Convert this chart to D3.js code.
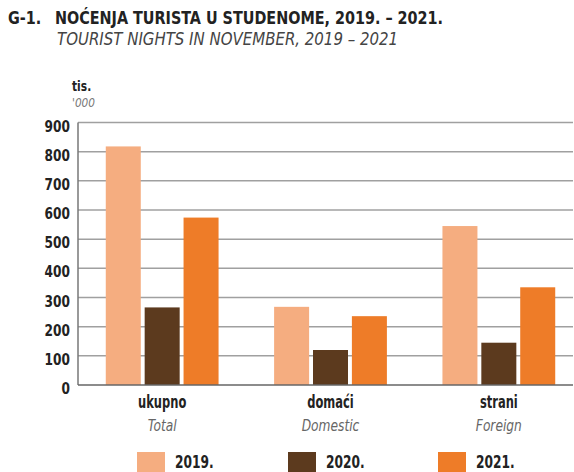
<!DOCTYPE html>
<html>
<head>
<meta charset="utf-8">
<script src="https://cdn.jsdelivr.net/npm/d3@7"></script>
<style>
  body { margin: 0; background: #fff; }
  svg { display: block; font-family: "DejaVu Sans Condensed", "DejaVu Sans", sans-serif; }
</style>
</head>
<body>
<svg id="chart" width="574" height="472"></svg>
<script>
const categories = ["ukupno", "domaći", "strani"];
const categoriesEn = ["Total", "Domestic", "Foreign"];
const years = ["2019.", "2020.", "2021."];
const values2019 = [818, 268, 545];
const values2020 = [266, 120, 145];
const values2021 = [574, 236, 335];
const yTicks = [0, 100, 200, 300, 400, 500, 600, 700, 800, 900];

const series = [values2019, values2020, values2021];
const colors = ["#f5ad80", "#5c3a1e", "#ee7c28"];

const plot = {left: 78, right: 573, top: 122.5, bottom: 385};

const svg = d3.select("#chart");

// text squeezed sideways, to get close to the condensed face of the original
function label(parent, x, y, txt, opts) {
  const g = parent.append("g")
    .attr("transform", `translate(${x},${y}) scale(${opts.sx || 1},1)`);
  return g.append("text")
    .attr("text-anchor", opts.anchor || "start")
    .attr("font-size", opts.size)
    .attr("font-weight", opts.bold ? "bold" : "normal")
    .attr("font-style", opts.italic ? "italic" : "normal")
    .attr("fill", opts.fill || "#222")
    .text(txt);
}

// titles
label(svg, 8, 24, "G-1.", {size: 17, bold: true, sx: 0.94});
label(svg, 55, 24, "NOĆENJA TURISTA U STUDENOME, 2019. – 2021.", {size: 17, bold: true, sx: 0.94});
label(svg, 57, 45, "TOURIST NIGHTS IN NOVEMBER, 2019 – 2021", {size: 17, italic: true, fill: "#444", sx: 0.98});

// unit labels
label(svg, 72, 91, "tis.", {size: 14, bold: true, sx: 0.85});
label(svg, 72, 107, "'000", {size: 13, italic: true, fill: "#777", sx: 0.9});

const y = d3.scaleLinear().domain([0, 900]).range([plot.bottom, plot.top]);

const x0 = d3.scaleBand().domain(categories)
  .range([plot.left, plot.left + 505])
  .paddingInner(0.33).paddingOuter(0.165);
const x1 = d3.scaleBand().domain(years)
  .range([0, x0.bandwidth()]).paddingInner(0.1);

// gridlines
svg.append("g").selectAll("line")
  .data(yTicks.filter(d => d > 0))
  .join("line")
  .attr("x1", plot.left).attr("x2", plot.right)
  .attr("y1", d => y(d)).attr("y2", d => y(d))
  .attr("stroke", "#a0a0a0").attr("stroke-width", 1.5);

// bars
const groups = svg.append("g").selectAll("g")
  .data(categories)
  .join("g")
  .attr("transform", d => `translate(${x0(d)},0)`);

groups.selectAll("rect")
  .data((c, i) => years.map((yr, j) => ({yr, v: series[j][i], j})))
  .join("rect")
  .attr("x", d => x1(d.yr))
  .attr("width", x1.bandwidth())
  .attr("y", d => y(d.v))
  .attr("height", d => y(0) - y(d.v))
  .attr("fill", d => colors[d.j]);

// axis lines
svg.append("line")
  .attr("x1", plot.left).attr("x2", plot.left)
  .attr("y1", y(900)).attr("y2", y(0))
  .attr("stroke", "#777").attr("stroke-width", 1.5);
svg.append("line")
  .attr("x1", plot.left).attr("x2", plot.right)
  .attr("y1", y(0)).attr("y2", y(0))
  .attr("stroke", "#666").attr("stroke-width", 1.5);

// y tick labels
const tickG = svg.append("g");
yTicks.forEach(d => {
  label(tickG, 70, y(d) + 9, d, {size: 16.5, bold: true, anchor: "end", sx: 0.82});
});

// category labels
const catG = svg.append("g");
categories.forEach((c, i) => {
  const cx = x0(c) + x0.bandwidth() / 2;
  label(catG, cx, 408, c, {size: 17, bold: true, anchor: "middle", sx: 0.75});
  label(catG, cx, 431, categoriesEn[i], {size: 16, italic: true, anchor: "middle", fill: "#666", sx: 0.85});
});

// legend
const legendX = [137, 288, 438];
const legend = svg.append("g").selectAll("g")
  .data(years)
  .join("g")
  .attr("transform", (d, i) => `translate(${legendX[i]},452)`);
legend.append("rect")
  .attr("width", 28).attr("height", 20)
  .attr("fill", (d, i) => colors[i]);
legend.each(function(d) {
  label(d3.select(this), 38, 16, d, {size: 17, bold: true, sx: 0.8});
});
</script>
</body>
</html>
